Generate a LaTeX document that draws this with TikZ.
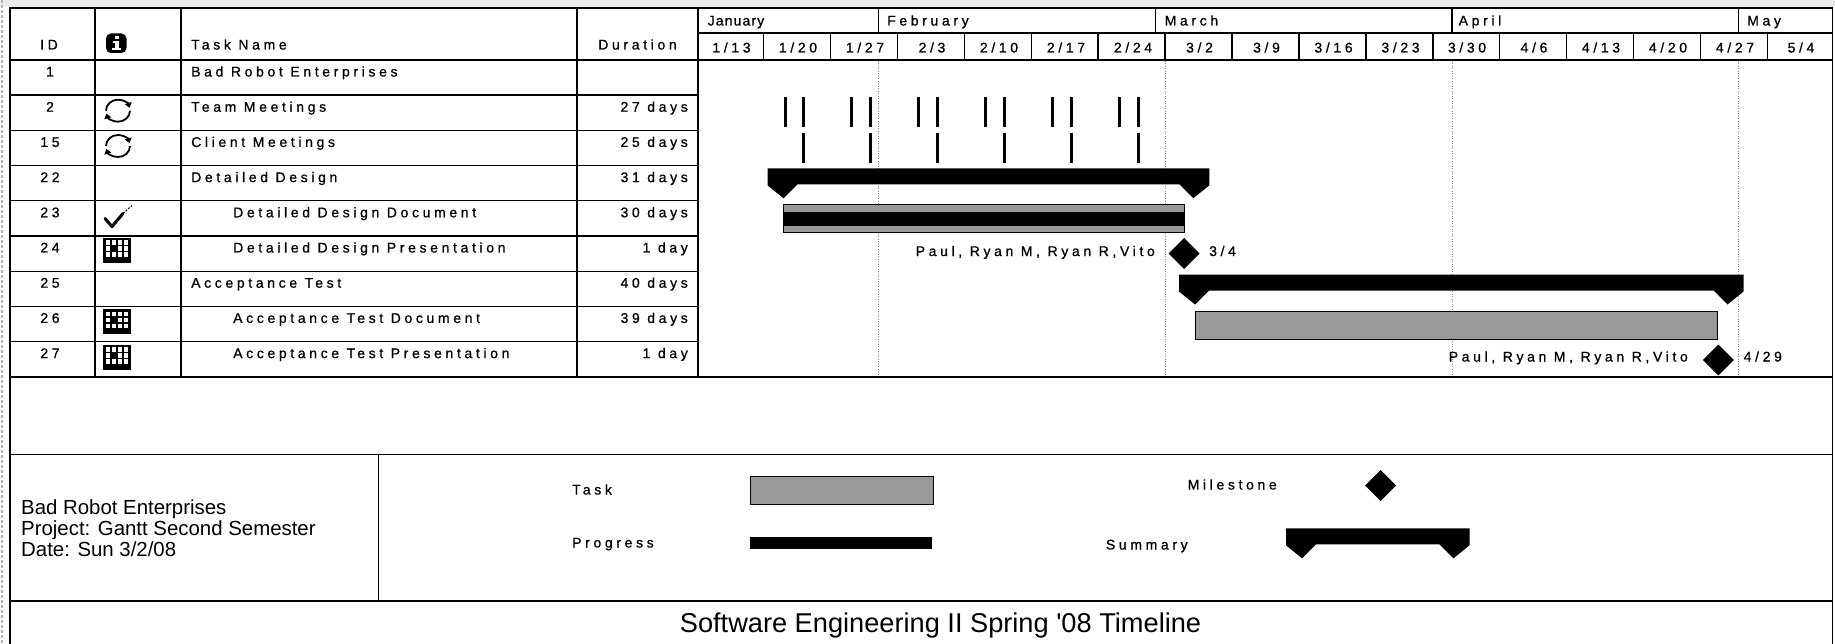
\documentclass[tikz,border=0pt]{standalone}
\usepackage{fontspec}
\setmainfont{Liberation Sans}
\newfontfamily\gtfont[LetterSpace=26,FakeBold=0.8]{Liberation Sans}
\newfontfamily\gtfontn[LetterSpace=8,FakeBold=0.8]{Liberation Sans}
\usetikzlibrary{arrows.meta}
\tikzset{
  gl/.style={line width=1.4pt, black},
  gt/.style={inner sep=0pt, font=\gtfont\fontsize{14}{16}\selectfont},
  gtn/.style={inner sep=0pt, font=\gtfontn\fontsize{14}{16}\selectfont},
  dotline/.style={black!45, line width=0.9pt, dash pattern=on 1pt off 1.5pt},
  tickline/.style={line width=3pt, black},
  taskbar/.style={line width=0.8pt, draw=black, fill=black!40},
  recurpic/.pic={
    \draw[line width=1.8pt, -{Triangle[length=5pt,width=7pt]}] (-12,0) arc[start angle=180, end angle=345, x radius=12, y radius=11];
    \draw[line width=1.8pt, -{Triangle[length=5pt,width=7pt]}] (12,0) arc[start angle=0, end angle=165, x radius=12, y radius=11];
  },
  checkpic/.pic={
    \draw[line width=3pt, line join=round, line cap=round] (-12,2) -- (-5,10) -- (6,-3);
    \draw[line width=1pt, dash pattern=on 2pt off 1.5pt] (6,-3) -- (15,-11);
  },
  calpic/.pic={
    \fill (-14,-12.5) rectangle (14,12.5);
    \foreach \cx/\cy in {-11.5/-10,-5.5/-10,0.5/-10,6.5/-10,-11.5/-4,0.5/-4,6.5/-4,-11.5/2,-5.5/2,0.5/2,6.5/2}
      \fill[white] (\cx,\cy) rectangle ++(4.5,4.5);
  }
}
\newcommand\ganttsumm[3]{\fill (#1,#3) -- (#2,#3) -- (#2,#3+17) -- (#2-16,#3+30) -- (#2-30,#3+16) -- (#1+30,#3+16) -- (#1+16,#3+30) -- (#1,#3+17) -- cycle;}
\newcommand\ganttmile[2]{\fill (#1-15.5,#2) -- (#1,#2-15.5) -- (#1+15.5,#2) -- (#1,#2+15.5) -- cycle;}
\begin{document}
\begin{tikzpicture}[x=1pt,y=-1pt]
\useasboundingbox (0,0) rectangle (1835,644);
\fill[white] (0,0) rectangle (1835,644);
\fill[black!8] (0,0) rectangle (1835,7);
\draw[black!30, line width=1.5pt, dash pattern=on 3pt off 2pt] (2,0) -- (2,644);

% ---------- grid ----------
\draw[gl] (10,648) -- (10,8) -- (1832.5,8) -- (1832.5,648);
\draw[gl] (10,60) -- (1832.5,60);
\draw[gl] (10,376.8) -- (1832.5,376.8);
\draw[gl] (10,454.5) -- (1832.5,454.5);
\draw[gl] (10,601) -- (1832.5,601);
\draw[gl] (378.5,454.5) -- (378.5,601);
\foreach \x in {95,181,577,698} \draw[gl] (\x,8) -- (\x,376.8);
\foreach \i in {1,...,8} \draw[gl] (10,{60+35.2*\i}) -- (698,{60+35.2*\i});
\draw[gl] (698,33) -- (1832.5,33);
\foreach \x in {878.2,1155.5,1452,1738.5} \draw[gl] (\x,8) -- (\x,33);
\foreach \k in {0,...,15} \draw[gl] ({763.5+66.93*\k},33) -- ({763.5+66.93*\k},60);
\foreach \x in {878.2,1165,1452,1738.5} \draw[dotline] (\x,61) -- (\x,376);

% ---------- header ----------
\node[gt, anchor=base] (hid) at (49,49.5) {ID};
\fill[rounded corners=5pt] (106,33.5) rectangle (126.5,53);
\fill[white] (114.5,36) rectangle (118.5,39.5);
\fill[white] (112.5,41.5) rectangle (118.5,43.5);
\fill[white] (114.5,41.5) rectangle (118.5,49);
\fill[white] (112,48) rectangle (120.5,50.5);
\node[gt, anchor=base west] (hname) at (191,49.5) {Task Name};
\node[gt, anchor=base] (hdur) at (637.5,49.5) {Duration};

\node[gtn, anchor=base west] (mjan) at (707.5,25.5) {January};
\node[gt, anchor=base west] (mfeb) at (887,25.5) {February};
\node[gt, anchor=base west] (mmar) at (1164.5,25.5) {March};
\node[gt, anchor=base west] (mapr) at (1458.5,25.5) {April};
\node[gt, anchor=base west] (mmay) at (1747,25.5) {May};

\node[gt, anchor=base] (w0) at (731.5,52.5) {1/13};
\node[gt, anchor=base] (w1) at (798,52.5) {1/20};
\node[gt, anchor=base] (w2) at (865,52.5) {1/27};
\node[gt, anchor=base] (w3) at (932,52.5) {2/3};
\node[gt, anchor=base] (w4) at (999,52.5) {2/10};
\node[gt, anchor=base] (w5) at (1066,52.5) {2/17};
\node[gt, anchor=base] (w6) at (1133,52.5) {2/24};
\node[gt, anchor=base] (w7) at (1199.5,52.5) {3/2};
\node[gt, anchor=base] (w8) at (1266.5,52.5) {3/9};
\node[gt, anchor=base] (w9) at (1333.5,52.5) {3/16};
\node[gt, anchor=base] (w10) at (1400.5,52.5) {3/23};
\node[gt, anchor=base] (w11) at (1467,52.5) {3/30};
\node[gt, anchor=base] (w12) at (1534,52.5) {4/6};
\node[gt, anchor=base] (w13) at (1601,52.5) {4/13};
\node[gt, anchor=base] (w14) at (1668,52.5) {4/20};
\node[gt, anchor=base] (w15) at (1735,52.5) {4/27};
\node[gt, anchor=base] (w16) at (1801,52.5) {5/4};

% ---------- rows ----------
\node[gt, anchor=base] (id1) at (50,76.5) {1};
\node[gt, anchor=base west] (tn1) at (191,76.5) {Bad Robot Enterprises};

\node[gt, anchor=base] (id2) at (50,111.7) {2};
\pic at (118,110.7) {recurpic};
\node[gt, anchor=base west] (tn2) at (191,111.7) {Team Meetings};
\node[gt, anchor=base east] (du2) at (688,111.7) {27 days};

\node[gt, anchor=base] (id15) at (50,146.9) {15};
\pic at (118,146) {recurpic};
\node[gt, anchor=base west] (tn15) at (191,146.9) {Client Meetings};
\node[gt, anchor=base east] (du15) at (688,146.9) {25 days};

\node[gt, anchor=base] (id22) at (50,182.1) {22};
\node[gt, anchor=base west] (tn22) at (191,182.1) {Detailed Design};
\node[gt, anchor=base east] (du22) at (688,182.1) {31 days};

\node[gt, anchor=base] (id23) at (50,217.3) {23};
\pic at (117,216.5) {checkpic};
\node[gt, anchor=base west] (tn23) at (233,217.3) {Detailed Design Document};
\node[gt, anchor=base east] (du23) at (688,217.3) {30 days};

\node[gt, anchor=base] (id24) at (50,252.5) {24};
\pic at (117,250.5) {calpic};
\node[gt, anchor=base west] (tn24) at (233,252.5) {Detailed Design Presentation};
\node[gt, anchor=base east] (du24) at (688,252.5) {1 day};

\node[gt, anchor=base] (id25) at (50,287.7) {25};
\node[gt, anchor=base west] (tn25) at (191,287.7) {Acceptance Test};
\node[gt, anchor=base east] (du25) at (688,287.7) {40 days};

\node[gt, anchor=base] (id26) at (50,322.9) {26};
\pic at (117,321.9) {calpic};
\node[gt, anchor=base west] (tn26) at (233,322.9) {Acceptance Test Document};
\node[gt, anchor=base east] (du26) at (688,322.9) {39 days};

\node[gt, anchor=base] (id27) at (50,358.1) {27};
\pic at (117,357.1) {calpic};
\node[gt, anchor=base west] (tn27) at (233,358.1) {Acceptance Test Presentation};
\node[gt, anchor=base east] (du27) at (688,358.1) {1 day};

% ---------- chart ----------
\foreach \k in {0,...,5} {
  \draw[tickline] ({763.5+66.93*\k+21.5},97.3) -- ++(0,29.4);
  \draw[tickline] ({763.5+66.93*\k+40},97.3) -- ++(0,29.4);
  \draw[tickline] ({763.5+66.93*\k+40},132.7) -- ++(0,30);
}
\ganttsumm{767.5}{1209.3}{168.3}
\draw[taskbar] (783.5,204.5) rectangle (1184,232.7);
\fill (783.5,211.7) rectangle (1184,226);
\ganttmile{1184}{253.5}
\node[gt, anchor=base east] (res1) at (1155,256) {Paul, Ryan M, Ryan R,Vito};
\node[gt, anchor=base west] (dt1) at (1209,256) {3/4};
\ganttsumm{1179}{1743.5}{274.5}
\draw[taskbar] (1195.2,311) rectangle (1717.6,339);
\ganttmile{1718.4}{360}
\node[gt, anchor=base east] (res2) at (1688,361.5) {Paul, Ryan M, Ryan R,Vito};
\node[gt, anchor=base west] (dt2) at (1743.5,361.5) {4/29};

% ---------- legend ----------
\node[inner sep=0pt, anchor=base west, font=\fontsize{20.4}{22}\selectfont] (lg1) at (21,514) {Bad Robot Enterprises};
\node[inner sep=0pt, anchor=base west, font=\fontsize{20.4}{22}\selectfont] (lg2) at (21,535) {Project: Gantt Second Semester};
\node[inner sep=0pt, anchor=base west, font=\fontsize{20.4}{22}\selectfont] (lg3) at (21,556) {Date: Sun 3/2/08};

\node[gt, anchor=base west] (ltask) at (572,494.5) {Task};
\draw[taskbar] (750.5,476) rectangle (933,504);
\node[gt, anchor=base west] (lprog) at (572,547.5) {Progress};
\fill (749.5,536.5) rectangle (931.5,549);
\node[gt, anchor=base west] (lmile) at (1187.5,489.5) {Milestone};
\ganttmile{1380.7}{485.5}
\node[gt, anchor=base west] (lsumm) at (1105.7,549.5) {Summary};
\ganttsumm{1286}{1469.5}{528.3}

\node[inner sep=0pt, anchor=base, font=\fontsize{27.2}{30}\selectfont] (title) at (940.5,632.7) {Software Engineering II Spring \textquotesingle08 Timeline};
\end{tikzpicture}
\end{document}
